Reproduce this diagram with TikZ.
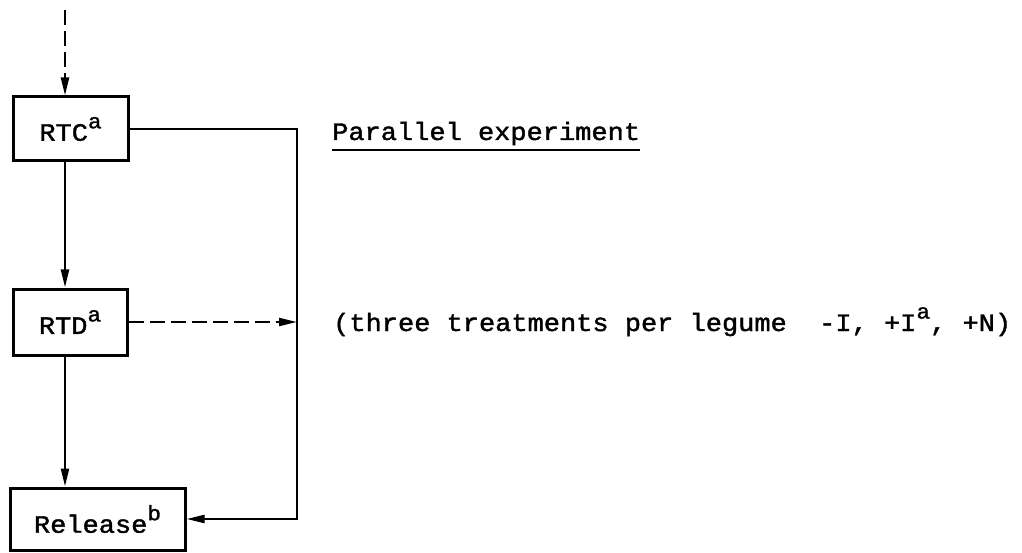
\documentclass[tikz,border=0pt]{standalone}
\usepackage{fontspec}
\setmonofont[FakeStretch=1.08,FakeBold=1.5]{Liberation Mono}
\usetikzlibrary{arrows.meta}
\newcommand{\supx}[1]{\raisebox{0.5em}{\fontsize{21}{21}\selectfont #1}}
\begin{document}
\begin{tikzpicture}[x=1pt,y=-1pt,
  tt/.style={font=\ttfamily\fontsize{25}{30}\selectfont},
  box/.style={draw, line width=3pt, inner sep=0pt, tt},
  conn/.style={line width=2.2pt, line join=miter, -{Triangle[length=18pt,width=8pt]}},
  dashedconn/.style={conn, dash pattern=on 15pt off 6pt},
  lbl/.style={tt, inner sep=0pt, anchor=base west}]
\useasboundingbox (0,0) rectangle (1022,553);
\node[box, minimum width=115pt, minimum height=64pt] (rtc) at (70.5,129) {RTC\supx{a}};
\node[box, minimum width=114pt, minimum height=66pt] (rtd) at (70,322) {RTD\supx{a}};
\node[box, minimum width=175pt, minimum height=62pt] (rel) at (97.5,519) {Release\supx{b}};
\coordinate (top) at (65,10);
\coordinate (bus) at (297,130);
\draw[dashedconn] (top) -- (rtc.north -| top);
\draw[conn] (rtc.south -| top) -- (rtd.north -| top);
\draw[conn] (rtd.south -| top) -- (rel.north -| top);
\draw[conn] (rtc.east) -| (rel.east -| bus) -- (rel.east);
\draw[dashedconn] (rtd.east) -- (rtd.east -| bus);
\node[lbl] (par) at (332,140) {Parallel experiment};
\draw[line width=2.2pt] ([yshift=-10pt]par.base west) -- ([yshift=-10pt]par.base east);
\node[lbl] (trt) at (333,331) {(three treatments per legume\ \ -I, +I\supx{a}, +N)};
\end{tikzpicture}
\end{document}
